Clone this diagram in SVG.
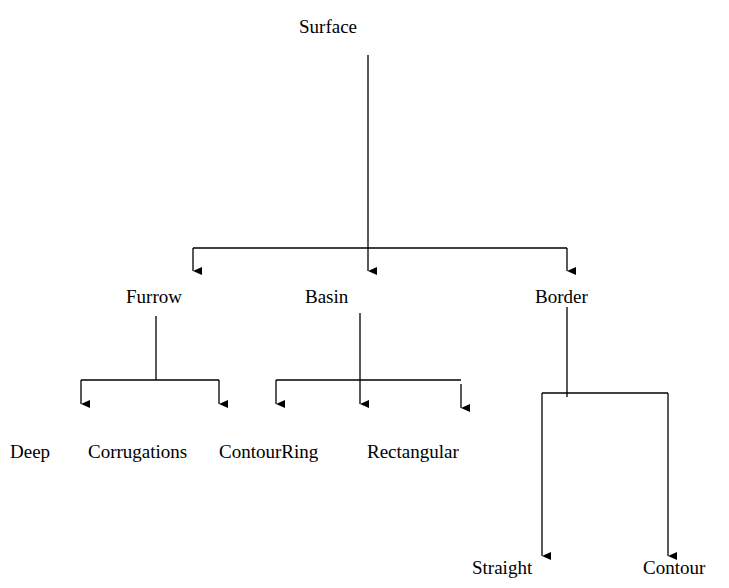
<svg xmlns="http://www.w3.org/2000/svg" width="729" height="588" viewBox="0 0 729 588">
<style>
text{font-family:"Liberation Serif",serif;font-size:19px;fill:#000}
.l{stroke:#000;stroke-width:1.3;fill:none}
</style>
<defs><marker id="a" markerWidth="8" markerHeight="9" refX="4" refY="9" orient="auto-start-reverse" markerUnits="userSpaceOnUse" viewBox="0 0 8 9"><path d="M0,0L8,0L4,9z" fill="#000"/></marker></defs>
<rect width="729" height="588" fill="#fff"/>
<g id="connectors">
<path class="l" d="M368,55V271" marker-end="url(#a)"/>
<path class="l" d="M193,248H567"/>
<path class="l" d="M193,248V271" marker-end="url(#a)"/>
<path class="l" d="M567,248V271" marker-end="url(#a)"/>
<path class="l" d="M156,316V380"/>
<path class="l" d="M81,380H219"/>
<path class="l" d="M81,380V404" marker-end="url(#a)"/>
<path class="l" d="M219,380V404" marker-end="url(#a)"/>
<path class="l" d="M360,313V404" marker-end="url(#a)"/>
<path class="l" d="M276,380H461"/>
<path class="l" d="M276,380V404" marker-end="url(#a)"/>
<path class="l" d="M461,384V408" marker-end="url(#a)"/>
<path class="l" d="M567,307V397"/>
<path class="l" d="M542,393H668"/>
<path class="l" d="M542,393V556" marker-end="url(#a)"/>
<path class="l" d="M668,393V556" marker-end="url(#a)"/>
</g>
<g id="surface"><text x="299" y="33">Surface</text></g>
<g id="furrow"><text x="126" y="303">Furrow</text></g>
<g id="basin"><text x="305" y="303">Basin</text></g>
<g id="border"><text x="535" y="303">Border</text></g>
<g id="deep"><text x="10" y="458">Deep</text></g>
<g id="corrugations"><text x="88" y="458">Corrugations</text></g>
<g id="contourring"><text x="219" y="458">ContourRing</text></g>
<g id="rectangular"><text x="367" y="458">Rectangular</text></g>
<g id="straight"><text x="472" y="574">Straight</text></g>
<g id="contour"><text x="643" y="574">Contour</text></g>
</svg>
